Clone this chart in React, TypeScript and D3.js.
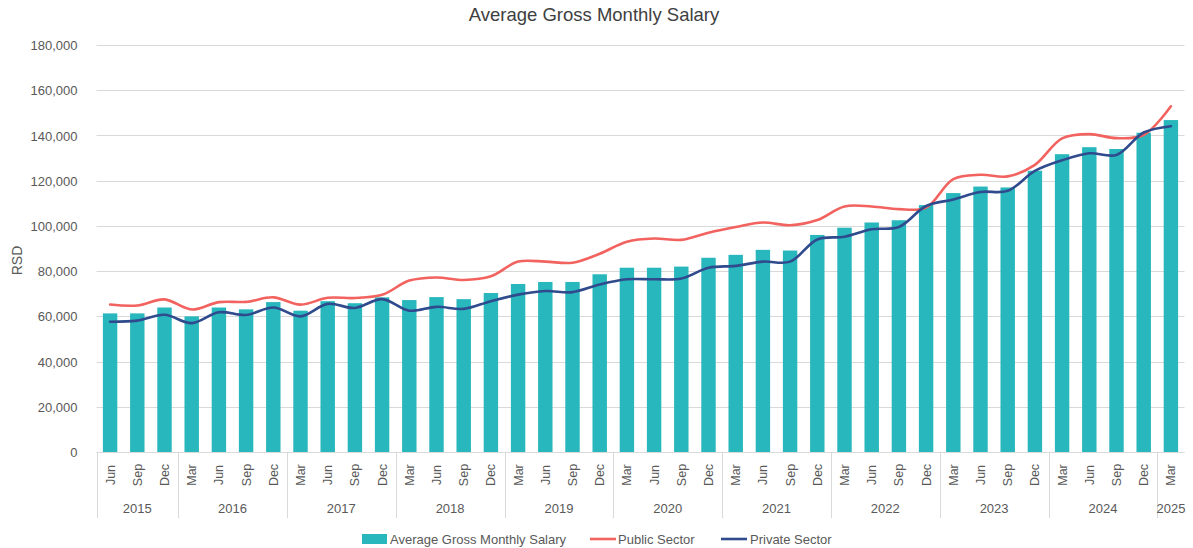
import React, { useEffect, useRef } from 'react';
import * as d3 from 'd3';

const categories = [
  'Jun 2015', 'Sep 2015', 'Dec 2015',
  'Mar 2016', 'Jun 2016', 'Sep 2016', 'Dec 2016',
  'Mar 2017', 'Jun 2017', 'Sep 2017', 'Dec 2017',
  'Mar 2018', 'Jun 2018', 'Sep 2018', 'Dec 2018',
  'Mar 2019', 'Jun 2019', 'Sep 2019', 'Dec 2019',
  'Mar 2020', 'Jun 2020', 'Sep 2020', 'Dec 2020',
  'Mar 2021', 'Jun 2021', 'Sep 2021', 'Dec 2021',
  'Mar 2022', 'Jun 2022', 'Sep 2022', 'Dec 2022',
  'Mar 2023', 'Jun 2023', 'Sep 2023', 'Dec 2023',
  'Mar 2024', 'Jun 2024', 'Sep 2024', 'Dec 2024',
  'Mar 2025'
];

const average = [
  61300, 61300, 63900,
  60000, 63900, 63100, 66300,
  62500, 66700, 65800, 68400,
  67200, 68500, 67600, 70300,
  74300, 75200, 75200, 78600,
  81500, 81500, 82000, 85900,
  87200, 89400, 89100, 96000,
  99200, 101500, 102500, 109200,
  114500, 117400, 117000, 124400,
  131700, 134800, 134000, 141200,
  146800
];

const publicSector = [
  65200, 64800, 67500,
  63000, 66300, 66400, 68400,
  65200, 68200, 68100, 69500,
  75800, 77200, 76100, 77700,
  84200, 84200, 83700, 87700,
  93000, 94400, 93800, 97000,
  99500, 101500, 100300, 102600,
  108600, 108600, 107400, 108100,
  120700, 122600, 121900, 127000,
  138700, 140600, 138800, 140200,
  152900
];

const privateSector = [
  57600, 58100, 60700,
  57000, 61800, 60600, 63900,
  60000, 65500, 63700, 67600,
  62500, 64200, 63300, 66700,
  69600, 71200, 70700, 74100,
  76400, 76400, 76700, 81500,
  82300, 84200, 84200, 94000,
  95200, 98500, 99500, 108800,
  111700, 115000, 115500, 124300,
  129000, 132100, 131400, 141300,
  144100
];

const yTicks = [0, 20000, 40000, 60000, 80000, 100000, 120000, 140000, 160000, 180000];

const W = 1193;
const H = 548;
const font = '"Liberation Sans", Arial, sans-serif';

const App = () => {
  const ref = useRef(null);

  useEffect(() => {
    const svg = d3.select(ref.current);
    svg.selectAll('*').remove();

    const left = 96.5;
    const right = 1184.5;
    const top = 45;
    const bottom = 452;

    const x = d3
      .scaleBand()
      .domain(categories)
      .range([left, right])
      .paddingInner(0.47)
      .paddingOuter(0.235);

    const y = d3.scaleLinear().domain([0, 180000]).range([bottom, top]);
    const cx = d => x(d) + x.bandwidth() / 2;

    // title
    svg.append('text')
      .attr('x', 594).attr('y', 21)
      .attr('text-anchor', 'middle')
      .style('font-family', font).style('font-size', '18.5px')
      .attr('fill', '#404040')
      .text('Average Gross Monthly Salary');

    // grid
    svg.append('g')
      .selectAll('line')
      .data(yTicks)
      .join('line')
      .attr('x1', left).attr('x2', right)
      .attr('y1', d => Math.round(y(d)) + 0.5).attr('y2', d => Math.round(y(d)) + 0.5)
      .attr('stroke', '#d9d9d9').attr('stroke-width', 1);

    const yAxis = svg.append('g')
      .attr('transform', `translate(${left - 16},0)`)
      .call(d3.axisLeft(y).tickValues(yTicks).tickSize(0).tickFormat(d3.format(',')));
    yAxis.select('.domain').remove();
    yAxis.selectAll('text')
      .style('font-family', font).style('font-size', '13px')
      .attr('fill', '#595959').attr('dy', '0.35em');

    svg.append('text')
      .attr('transform', `translate(22,${(top + bottom) / 2 + 12}) rotate(-90)`)
      .attr('text-anchor', 'middle')
      .style('font-family', font).style('font-size', '14px')
      .attr('fill', '#595959')
      .text('RSD');

    // bars
    svg.append('g')
      .selectAll('rect')
      .data(categories)
      .join('rect')
      .attr('x', d => x(d))
      .attr('width', x.bandwidth())
      .attr('y', (d, i) => y(average[i]))
      .attr('height', (d, i) => y(0) - y(average[i]))
      .attr('fill', '#27b7bc');

    const line = d3.line()
      .x((d, i) => cx(categories[i]))
      .y(d => y(d))
      .curve(d3.curveCatmullRom.alpha(0.5));

    svg.append('path')
      .datum(publicSector)
      .attr('d', line)
      .attr('fill', 'none')
      .attr('stroke', '#f2625f')
      .attr('stroke-width', 2.6)
      .attr('stroke-linecap', 'round');

    svg.append('path')
      .datum(privateSector)
      .attr('d', line)
      .attr('fill', 'none')
      .attr('stroke', '#2f4b8d')
      .attr('stroke-width', 2.6)
      .attr('stroke-linecap', 'round');

    // x axis
    const step = x.step();
    svg.append('line')
      .attr('x1', left).attr('x2', right)
      .attr('y1', bottom + 0.5).attr('y2', bottom + 0.5)
      .attr('stroke', '#d9d9d9');

    svg.append('g')
      .selectAll('text')
      .data(categories)
      .join('text')
      .attr('transform', d => `translate(${cx(d) + 4.5},475) rotate(-90)`)
      .attr('text-anchor', 'middle')
      .style('font-family', font).style('font-size', '12.5px')
      .attr('fill', '#595959')
      .text(d => d.split(' ')[0]);

    const years = Array.from(new Set(categories.map(d => d.split(' ')[1])));
    const yearGroups = years.map(yr => {
      const items = categories.filter(d => d.split(' ')[1] === yr);
      return { yr, x0: x(items[0]) - (step - x.bandwidth()) / 2, x1: x(items[items.length - 1]) + x.bandwidth() + (step - x.bandwidth()) / 2 };
    });

    svg.append('g')
      .selectAll('line')
      .data(yearGroups)
      .join('line')
      .attr('x1', d => Math.round(d.x0) + 0.5).attr('x2', d => Math.round(d.x0) + 0.5)
      .attr('y1', bottom).attr('y2', 518)
      .attr('stroke', '#d9d9d9');

    svg.append('g')
      .selectAll('text')
      .data(yearGroups)
      .join('text')
      .attr('x', d => (d.x0 + d.x1) / 2)
      .attr('y', 513)
      .attr('text-anchor', 'middle')
      .style('font-family', font).style('font-size', '13px')
      .attr('fill', '#595959')
      .text(d => d.yr);

    // legend
    const lg = svg.append('g').attr('transform', 'translate(0,539)');
    lg.append('rect').attr('x', 362).attr('y', -5).attr('width', 25).attr('height', 10).attr('fill', '#27b7bc');
    lg.append('text').attr('x', 390).attr('y', 4.5)
      .style('font-family', font).style('font-size', '13px').attr('fill', '#595959')
      .text('Average Gross Monthly Salary');
    lg.append('line').attr('x1', 590).attr('x2', 616).attr('y1', 0).attr('y2', 0)
      .attr('stroke', '#f2625f').attr('stroke-width', 2.6);
    lg.append('text').attr('x', 618).attr('y', 4.5)
      .style('font-family', font).style('font-size', '13px').attr('fill', '#595959')
      .text('Public Sector');
    lg.append('line').attr('x1', 721).attr('x2', 747).attr('y1', 0).attr('y2', 0)
      .attr('stroke', '#2f4b8d').attr('stroke-width', 2.6);
    lg.append('text').attr('x', 750).attr('y', 4.5)
      .style('font-family', font).style('font-size', '13px').attr('fill', '#595959')
      .text('Private Sector');
  }, []);

  return (
    <svg
      width={W}
      height={H}
      ref={ref}
      style={{ position: 'absolute', left: 0, top: 0, background: '#fff' }}
    />
  );
};

export default App;
